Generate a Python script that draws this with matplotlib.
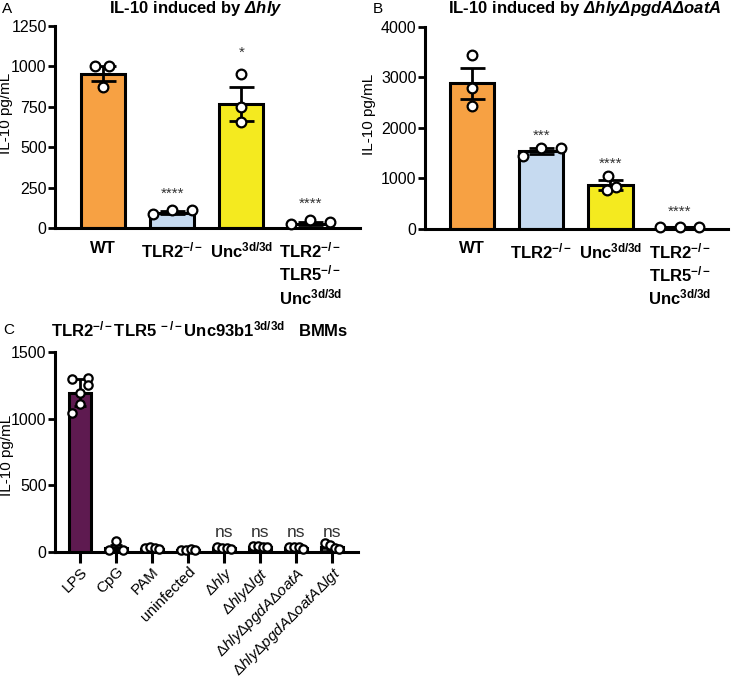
import matplotlib
matplotlib.use('Agg')
import matplotlib.pyplot as plt
import numpy as np

plt.rcParams['font.family'] = ['Liberation Sans', 'DejaVu Sans']
plt.rcParams['mathtext.fontset'] = 'custom'
plt.rcParams['mathtext.rm'] = 'Liberation Sans'
plt.rcParams['mathtext.it'] = 'Liberation Sans:italic'
plt.rcParams['mathtext.bf'] = 'Liberation Sans:bold'
plt.rcParams['mathtext.bfit'] = 'Liberation Sans:bold:italic'

# ---- data ----
a_groups = ['WT', 'TLR2$^{\\mathbf{-/-}}$', 'Unc$^{\\mathbf{3d/3d}}$',
            'TLR2$^{\\mathbf{-/-}}$\nTLR5$^{\\mathbf{-/-}}$\nUnc$^{\\mathbf{3d/3d}}$']
a_mean = [955, 95, 765, 28]
a_sem = [45, 10, 105, 8]
a_points = [[1005, 1005, 870], [88, 115, 110], [950, 750, 655], [25, 48, 38]]
a_stars = ['', '****', '*', '****']
a_star_y = [0, 210, 1085, 150]

b_mean = [2880, 1545, 860, 30]
b_sem = [310, 60, 100, 10]
b_points = [[3440, 2780, 2420], [1440, 1605, 1605], [1045, 770, 820], [35, 40, 35]]
b_stars = ['', '***', '****', '****']
b_star_y = [0, 1850, 1290, 330]

c_groups = ['LPS', 'CpG', 'PAM', 'uninfected', '$\\mathit{Δhly}$', '$\\mathit{ΔhlyΔlgt}$',
            '$\\mathit{ΔhlyΔpgdAΔoatA}$', '$\\mathit{ΔhlyΔpgdAΔoatAΔlgt}$']
c_mean = [1195, 30, 25, 18, 28, 38, 32, 40]
c_err = [100, 20, 5, 3, 6, 5, 6, 15]
c_points = [[1300, 1305, 1255, 1190, 1110, 1040], [82, 15, 12], [30, 35, 30, 25],
            [15, 18, 20, 15], [35, 30, 28, 20], [45, 42, 40, 35], [40, 38, 35, 25],
            [65, 50, 30, 20]]
c_ns = ['', '', '', '', 'ns', 'ns', 'ns', 'ns']

orange = '#F7A143'
blue = '#C6DAF0'
yellow = '#F4EA1F'
white = '#FFFFFF'
purple = '#5E1A50'

fig = plt.figure(figsize=(7.34, 6.83), dpi=100)


def style_axis(ax, xticks=False):
    for s in ['top', 'right']:
        ax.spines[s].set_visible(False)
    for s in ['left', 'bottom']:
        ax.spines[s].set_linewidth(2.2)
    ax.tick_params(axis='y', length=5, width=2, labelsize=11.5, pad=1)
    if xticks:
        ax.tick_params(axis='x', length=8, width=2.2, labelsize=11, pad=1)
    else:
        ax.tick_params(axis='x', length=0, labelsize=12, pad=9)


def draw_bars(ax, means, errs, points, colors, width, jit, cap=9, ms=7):
    x = np.arange(len(means))
    ax.bar(x, means, width=width, color=colors, edgecolor='black', linewidth=2.2, zorder=2)
    ax.errorbar(x, means, yerr=errs, fmt='none', ecolor='black', elinewidth=2,
                capsize=cap, capthick=2, zorder=3)
    for i, pts in enumerate(points):
        offs = jit[i]
        ax.plot(x[i] + np.array(offs[:len(pts)]), pts, 'o', ms=ms, mfc='white',
                mec='black', mew=1.6, zorder=4, clip_on=False)
    return x


# ---- panel A ----
axA = fig.add_axes([0.0749, 0.666, 0.4155, 0.296])
jitA = [[-0.12, 0.08, 0.0], [-0.28, 0.0, 0.28], [0.0, 0.0, 0.0], [-0.28, 0.0, 0.28]]
x = draw_bars(axA, a_mean, a_sem, a_points, [orange, blue, yellow, white], 0.64, jitA)
axA.set_xlim(-0.70, 3.72)
axA.set_ylim(0, 1250)
axA.set_yticks([0, 250, 500, 750, 1000, 1250])
axA.set_xticks(x)
axA.set_xticklabels(a_groups, fontweight='bold', va='top')
style_axis(axA)
for i, s in enumerate(a_stars):
    if s:
        axA.text(x[i], a_star_y[i], s, ha='center', va='center', fontsize=11, color='#333333')
axA.set_ylabel('IL-10 pg/mL', fontsize=11)
axA.yaxis.set_label_coords(-0.138, 0.57)

# ---- panel B ----
axB = fig.add_axes([0.579, 0.665, 0.413, 0.296])
jitB = [[0.0, 0.0, 0.0], [-0.27, 0.0, 0.29], [-0.03, -0.05, 0.08], [-0.28, 0.0, 0.28]]
x = draw_bars(axB, b_mean, b_sem, b_points, [orange, blue, yellow, white], 0.64, jitB)
axB.set_xlim(-0.68, 3.70)
axB.set_ylim(0, 4000)
axB.set_yticks([0, 1000, 2000, 3000, 4000])
axB.set_xticks(x)
axB.set_xticklabels(a_groups, fontweight='bold', va='top')
style_axis(axB)
for i, s in enumerate(b_stars):
    if s:
        axB.text(x[i], b_star_y[i], s, ha='center', va='center', fontsize=11, color='#333333')
axB.set_ylabel('IL-10 pg/mL', fontsize=11)
axB.yaxis.set_label_coords(-0.162, 0.568)

# ---- panel C ----
axC = fig.add_axes([0.0749, 0.1918, 0.413, 0.2928])
jitC = [[-0.22, 0.22, 0.22, 0.0, 0.0, -0.22], [0.0, -0.2, 0.2], [-0.2, -0.05, 0.08, 0.2],
        [-0.2, -0.05, 0.08, 0.2], [-0.2, -0.05, 0.08, 0.2], [-0.2, -0.05, 0.08, 0.2],
        [-0.2, -0.05, 0.08, 0.2], [-0.2, -0.05, 0.08, 0.2]]
c_colors = [purple] + ['#444444'] * 7
x = draw_bars(axC, c_mean, c_err, c_points, c_colors, 0.6, jitC, cap=4, ms=6)
axC.set_xlim(-0.69, 7.72)
axC.set_ylim(0, 1500)
axC.set_yticks([0, 500, 1000, 1500])
axC.set_xticks(x)
axC.set_xticklabels(c_groups, rotation=45, ha='right', rotation_mode='anchor')
style_axis(axC, xticks=True)
for i, s in enumerate(c_ns):
    if s:
        axC.text(x[i], 90, s, ha='center', va='bottom', fontsize=12.5, color='#333333')
axC.set_ylabel('IL-10 pg/mL', fontsize=11)
axC.yaxis.set_label_coords(-0.135, 0.485)

# titles and panel letters
fig.text(0.267, 0.987, 'IL-10 induced by $\\mathbfit{Δhly}$', ha='center', va='center',
         fontsize=12, fontweight='bold')
fig.text(0.796, 0.987, 'IL-10 induced by $\\mathbfit{ΔhlyΔpgdAΔoatA}$', ha='center',
         va='center', fontsize=12, fontweight='bold')
fig.text(0.272, 0.517, 'TLR2$^{\\mathbf{-/-}}$TLR5$^{\\mathbf{\\ -/-}}$Unc93b1$^{\\mathbf{3d/3d}}$   BMMs',
         ha='center', va='center', fontsize=12, fontweight='bold')
fig.text(0.003, 0.987, 'A', fontsize=11, va='center')
fig.text(0.508, 0.987, 'B', fontsize=11, va='center')
fig.text(0.005, 0.517, 'C', fontsize=11, va='center')

fig.savefig('out.png', dpi=100)
